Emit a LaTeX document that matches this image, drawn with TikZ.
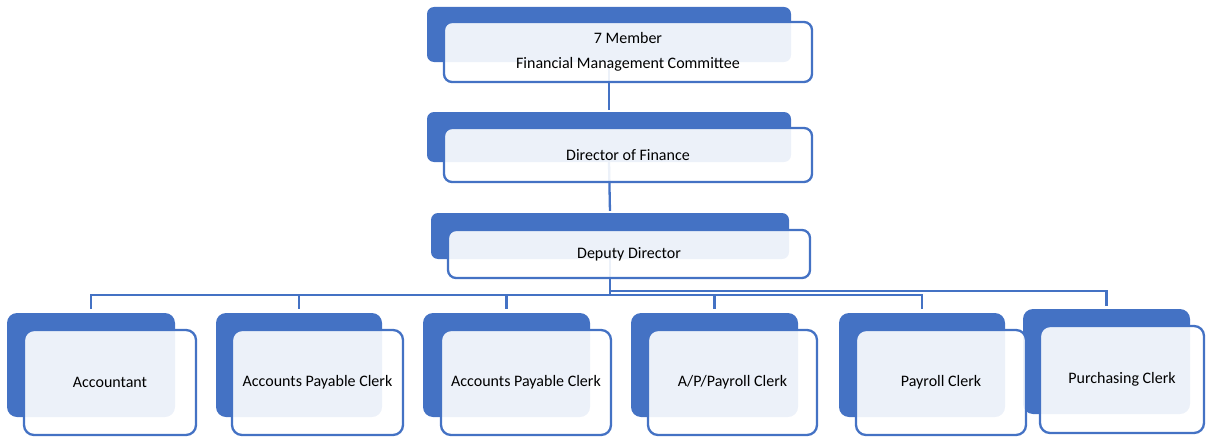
\documentclass[tikz,border=0pt]{standalone}
\usepackage{fontspec}
\setmainfont{Carlito}
\usetikzlibrary{positioning}
\definecolor{accblue}{HTML}{4472C4}
\begin{document}
\begin{tikzpicture}[x=1pt,y=-1pt,
  backbox/.style={fill=accblue,draw=none,rounded corners=7pt,inner sep=0pt},
  frontbox/.style={fill=white,fill opacity=0.9,draw=accblue,line width=2.3pt,rounded corners=8pt,inner sep=0pt,text opacity=1},
  lbl/.style={font=\fontsize{16}{25}\selectfont,text=black,align=center,inner sep=0pt},
  conn/.style={draw=accblue,line width=2.3pt}]
\useasboundingbox (0,0) rectangle (1206,436);
% back boxes
\node[backbox,minimum width=364pt,minimum height=55pt] (topB) at (609,34.5) {};
\node[backbox,minimum width=364pt,minimum height=50pt] (dirB) at (609,137) {};
\node[backbox,minimum width=358pt,minimum height=46pt] (depB) at (610,236) {};
\node[backbox,rounded corners=10pt,minimum width=168pt,minimum height=104pt] (c1B) at (91,365) {};
\node[backbox,rounded corners=10pt,minimum width=166pt,minimum height=104pt] (c2B) at (299,365) {};
\node[backbox,rounded corners=10pt,minimum width=167pt,minimum height=104pt] (c3B) at (506.5,365) {};
\node[backbox,rounded corners=10pt,minimum width=167pt,minimum height=104pt] (c4B) at (714.5,365) {};
\node[backbox,rounded corners=10pt,minimum width=166pt,minimum height=104pt] (c5B) at (922,365) {};
\node[backbox,rounded corners=10pt,minimum width=167pt,minimum height=105pt] (c6B) at (1106.5,361.5) {};
% connectors
\coordinate (bus) at (610,295);
\coordinate (bus2) at (610,291);
\draw[conn,shorten >=2pt] (topB.south) -- (dirB.north);
\draw[conn,shorten >=2pt] (dirB.south) -- (depB.north);
\draw[conn] (depB.south) -- (bus);
\draw[conn,shorten >=4pt] (bus) -| (c1B.north);
\draw[conn,shorten >=4pt] (bus) -| (c2B.north);
\draw[conn,shorten >=4pt] (bus) -| (c3B.north);
\draw[conn,shorten >=4pt] (bus) -| (c4B.north);
\draw[conn,shorten >=4pt] (bus) -| (c5B.north);
\draw[conn,shorten >=3pt] (bus2) -| (c6B.north);
% front boxes
\node[frontbox,minimum width=368pt,minimum height=60pt] (topF) at (628,52) {};
\node[frontbox,minimum width=368pt,minimum height=54pt] (dirF) at (628,155) {};
\node[frontbox,minimum width=362pt,minimum height=48pt] (depF) at (629,254) {};
\node[frontbox,rounded corners=10pt,minimum width=172pt,minimum height=105pt] (c1F) at (110,382.5) {};
\node[frontbox,rounded corners=10pt,minimum width=171pt,minimum height=105pt] (c2F) at (317.5,382.5) {};
\node[frontbox,rounded corners=10pt,minimum width=170pt,minimum height=105pt] (c3F) at (526,382.5) {};
\node[frontbox,rounded corners=10pt,minimum width=169pt,minimum height=105pt] (c4F) at (732.5,382.5) {};
\node[frontbox,rounded corners=10pt,minimum width=170pt,minimum height=105pt] (c5F) at (941,382.5) {};
\node[frontbox,rounded corners=10pt,minimum width=164pt,minimum height=107pt] (c6F) at (1122,379.5) {};
% labels
\node[lbl] (topT) at (topF.center) {7 Member\\Financial Management Committee};
\node[lbl] (dirT) at (dirF.center) {Director of Finance};
\node[lbl] (depT) at (depF.center) {Deputy Director};
\node[lbl] (c1T) at (c1F.center) {Accountant};
\node[lbl] (c2T) at (c2F.center) {Accounts Payable Clerk};
\node[lbl] (c3T) at (c3F.center) {Accounts Payable Clerk};
\node[lbl] (c4T) at (c4F.center) {A/P/Payroll Clerk};
\node[lbl] (c5T) at (c5F.center) {Payroll Clerk};
\node[lbl] (c6T) at (c6F.center) {Purchasing Clerk};
\end{tikzpicture}
\end{document}
